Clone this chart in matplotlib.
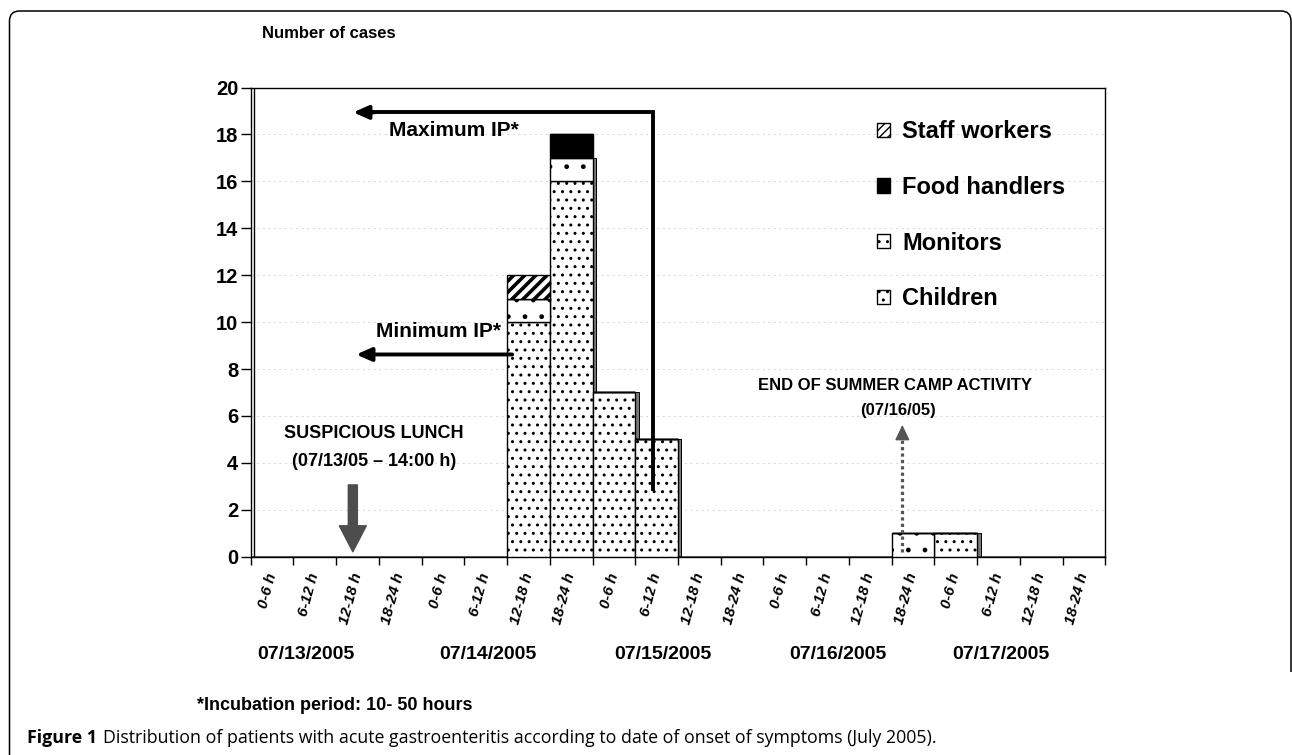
import numpy as np
import matplotlib.pyplot as plt
from matplotlib.patches import Patch, PathPatch
from matplotlib.path import Path
from matplotlib.transforms import Affine2D

plt.rcParams['font.family'] = ['Liberation Sans', 'DejaVu Sans']
plt.rcParams['hatch.linewidth'] = 1.0

# 6-hour slots, 5 days
slots = ['0-6 h', '6-12 h', '12-18 h', '18-24 h'] * 5
days = ['07/13/2005', '07/14/2005', '07/15/2005', '07/16/2005', '07/17/2005']
day_pos = [1.3, 5.55, 9.65, 13.75, 17.55]

children = [0, 0, 0, 0, 0, 0, 10, 16, 7, 5, 0, 0, 0, 0, 0, 0, 1, 0, 0, 0]
monitors = [0, 0, 0, 0, 0, 0, 1, 1, 0, 0, 0, 0, 0, 0, 0, 1, 0, 0, 0, 0]
food = [0, 0, 0, 0, 0, 0, 0, 1, 0, 0, 0, 0, 0, 0, 0, 0, 0, 0, 0, 0]
staff = [0, 0, 0, 0, 0, 0, 1, 0, 0, 0, 0, 0, 0, 0, 0, 0, 0, 0, 0, 0]

W, H = 1292, 755
fig = plt.figure(figsize=(W / 100, H / 100), dpi=100)
ax = fig.add_axes([250.7 / W, 1 - 556.7 / H, 854.6 / W, 469.2 / H])

x = np.arange(len(slots))
ch = np.array(children)
mo = np.array(monitors)
fo = np.array(food)
st = np.array(staff)

# grey side strip (3D look), partly hidden by the next bar
side = ch + mo
ax.bar(x[side > 0] + 1, side[side > 0], width=0.08, align='edge',
       color='#7a7a7a', edgecolor='black', lw=0.7, zorder=2)

kw = dict(width=1, align='edge', edgecolor='black', lw=1, zorder=3)
ax.bar(x, ch, color='white', hatch='..', **kw)
ax.bar(x, mo, bottom=ch, color='white', hatch='.', **kw)
ax.bar(x, fo, bottom=ch + mo, color='black', **kw)
with plt.rc_context({'hatch.linewidth': 2.6}):
    sb = ax.bar(x, st, bottom=ch + mo + fo, color='white', hatch='///', **kw)
for p in sb:
    if hasattr(p, 'set_hatch_linewidth'):
        p.set_hatch_linewidth(2.6)

ax.set_xlim(0, 20)
ax.set_ylim(0, 20)
ax.set_axisbelow(True)
ax.yaxis.grid(True, linestyle=(0, (2, 3)), color='#dcdcdc', lw=0.8)
for s in ax.spines.values():
    s.set_linewidth(1.0)
ax.axvline(0.08, color='black', lw=1.0, zorder=4)

ax.set_yticks(range(0, 21, 2))
ax.tick_params(axis='y', length=7, width=1, pad=2, labelsize=14.5)
for t in ax.get_yticklabels():
    t.set_fontweight('bold')

ax.set_xticks(range(0, 21))
ax.set_xticklabels([])
ax.tick_params(axis='x', which='major', length=6, width=1)
ax.set_xticks(x + 0.5, minor=True)
ax.set_xticklabels(slots, minor=True, rotation=75, ha='right', va='center',
                   rotation_mode='anchor', fontsize=11, fontweight='bold',
                   fontstyle='italic')
ax.tick_params(axis='x', which='minor', length=0, pad=12)

for d, p in zip(days, day_pos):
    ax.text(p, -0.2095, d, transform=ax.get_xaxis_transform(), ha='center',
            va='center', fontsize=14, fontweight='bold')

# incubation period arrows
ax.plot([9.41, 9.41, 2.8], [2.9, 18.94, 18.94], color='black', lw=2.8,
        solid_joinstyle='miter', zorder=5)
ax.annotate('', xy=(2.40, 18.94), xytext=(2.9, 18.94), zorder=5,
            arrowprops=dict(arrowstyle='-|>,head_length=0.9,head_width=0.4',
                            color='black', lw=2.8, shrinkA=0, shrinkB=0))
ax.text(4.75, 18.15, 'Maximum IP*', ha='center', va='center', fontsize=15,
        fontweight='bold')
ax.annotate('', xy=(2.47, 8.62), xytext=(6.12, 8.62), zorder=5,
            arrowprops=dict(arrowstyle='-|>,head_length=0.9,head_width=0.4',
                            color='black', lw=2.8, shrinkA=0, shrinkB=0))
ax.text(4.39, 9.61, 'Minimum IP*', ha='center', va='center', fontsize=15,
        fontweight='bold')

# suspicious lunch
ax.annotate('', xy=(2.39, 0.21), xytext=(2.39, 3.06), zorder=5,
            arrowprops=dict(arrowstyle='simple,head_length=1.87,head_width=1.94,tail_width=0.65',
                            mutation_scale=10, color='#4d4d4d', shrinkA=0, shrinkB=0))
ax.text(2.88, 5.27, 'SUSPICIOUS LUNCH', ha='center', va='center', fontsize=13,
        fontweight='bold')
ax.text(2.88, 4.06, '(07/13/05 \u2013 14:00 h)', ha='center', va='center',
        fontsize=13, fontweight='bold')

# end of camp
ax.plot([15.25, 15.25], [0.21, 5.2], color='#555555', lw=2.3,
        linestyle=(0, (1, 1)), dash_capstyle='butt', zorder=5)
ax.annotate('', xy=(15.25, 5.62), xytext=(15.25, 5.1), zorder=5,
            arrowprops=dict(arrowstyle='-|>,head_length=0.95,head_width=0.45',
                            color='#555555', lw=1, shrinkA=0, shrinkB=0))
ax.text(15.07, 7.29, 'END OF SUMMER CAMP ACTIVITY', ha='center', va='center',
        fontsize=12, fontweight='bold')
ax.text(15.15, 6.24, '(07/16/05)', ha='center', va='center', fontsize=12,
        fontweight='bold')

handles = [Patch(facecolor='white', edgecolor='black', hatch='////', label='Staff workers'),
           Patch(facecolor='black', edgecolor='black', label='Food handlers'),
           Patch(facecolor='white', edgecolor='black', hatch='..', label='Monitors'),
           Patch(facecolor='white', edgecolor='black', hatch='..', label='Children')]
ax.legend(handles=handles, loc='upper left', bbox_to_anchor=(0.733, 0.93),
          frameon=False, borderpad=0, borderaxespad=0, handlelength=0.55,
          handleheight=0.55, handletextpad=0.5, labelspacing=1.38,
          prop=dict(size=17, weight='bold'))

fig.text(262 / W, 1 - 33 / H, 'Number of cases', ha='left', va='center',
         fontsize=12, fontweight='bold')
fig.text(197 / W, 1 - 706 / H, '*Incubation period: 10- 50 hours', ha='left',
         va='center', fontsize=13, fontweight='bold')

cap1 = fig.text(27 / W, 1 - 738 / H, 'Figure 1', ha='left', va='center',
                fontsize=12.8, fontweight='bold', family='Open Sans')
ax.annotate('Distribution of patients with acute gastroenteritis according to '
            'date of onset of symptoms (July 2005).',
            xy=(1, 0.5), xycoords=cap1, xytext=(4, 0), textcoords='offset points',
            ha='left', va='center', fontsize=12.8, family='Open Sans',
            annotation_clip=False)

# rounded frame
verts = [(9.5, 755), (9.5, 21), (9.5, 11), (19.5, 11), (1281, 11), (1291, 11),
         (1291, 21), (1291, 672)]
codes = [Path.MOVETO, Path.LINETO, Path.CURVE3, Path.CURVE3, Path.LINETO,
         Path.CURVE3, Path.CURVE3, Path.LINETO]
verts = [(vx, H - vy) for vx, vy in verts]
frame = PathPatch(Path(verts, codes), fill=False, lw=1.1, edgecolor='black',
                  transform=Affine2D().scale(1 / W, 1 / H) + fig.transFigure)
fig.add_artist(frame)

fig.savefig('out.png', dpi=100)
